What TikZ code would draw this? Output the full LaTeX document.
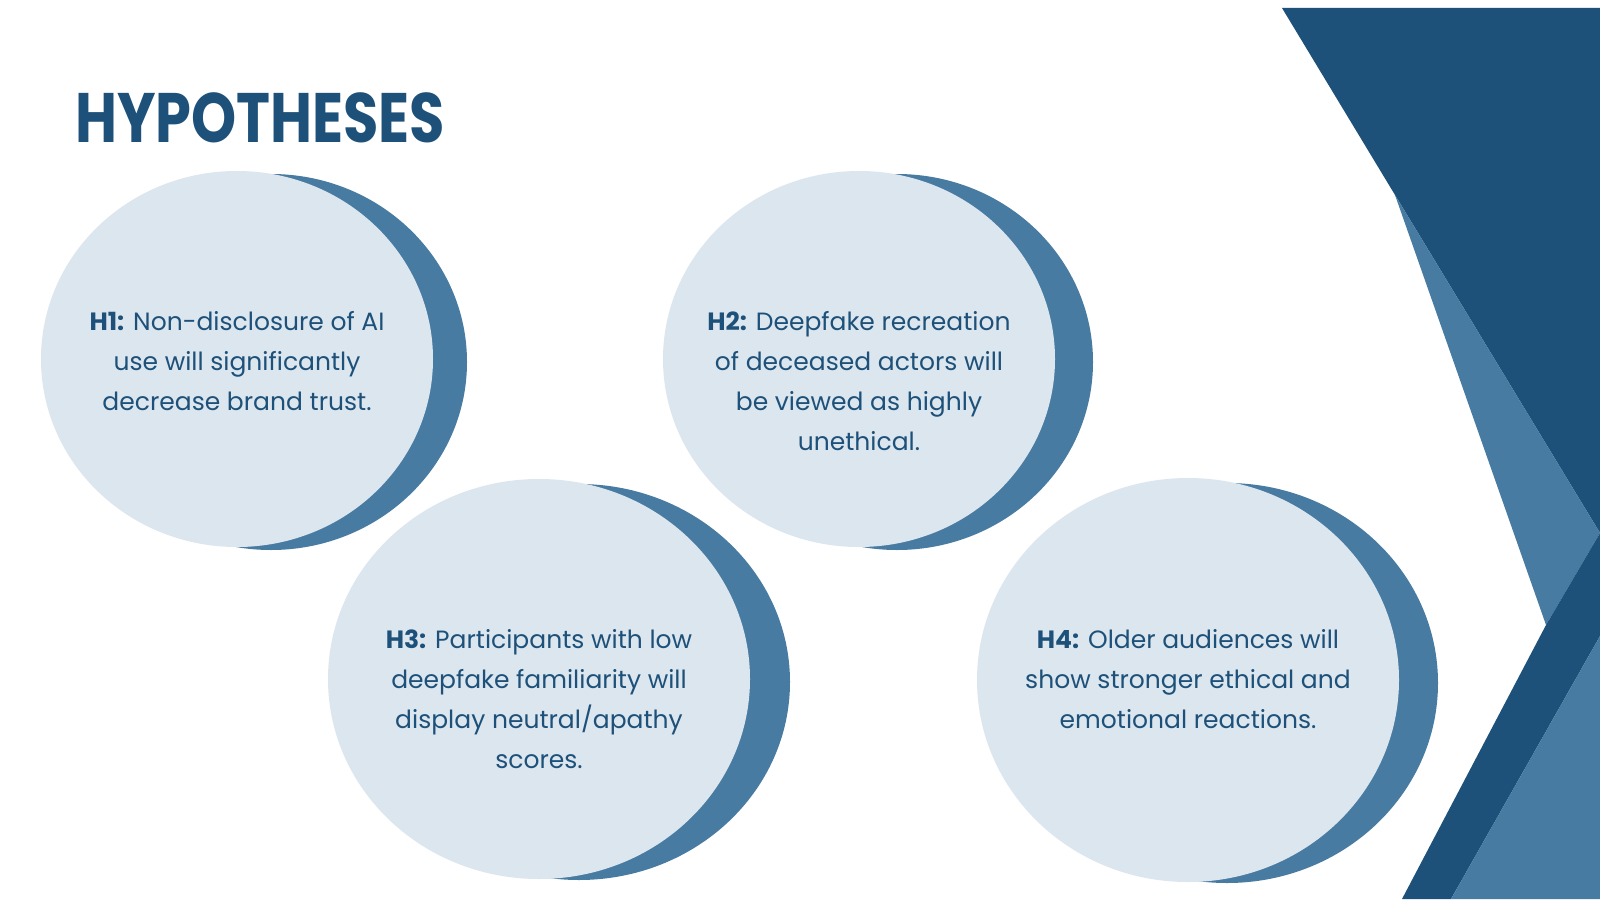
\documentclass[tikz,border=0pt]{standalone}
\usepackage{fontspec}
\setmainfont{Poppins}
\usepackage{graphicx}
\definecolor{dk}{HTML}{1E5179}
\definecolor{md}{HTML}{487BA2}
\definecolor{lt}{HTML}{DCE6EF}
\begin{document}
\begin{tikzpicture}[x=1pt,y=-1pt,
  blob/.style={fill=lt},
  shadow/.style={fill=md},
  txt/.style={text=dk,align=center,font=\fontsize{25}{40}\selectfont}]
\useasboundingbox (0,0) rectangle (1600,899);
\fill[white] (0,0) rectangle (1600,899);
% right decoration
\fill[dk] (1282,8) -- (1600,8) -- (1600,533) -- (1395,195) -- cycle;
\fill[md] (1395,195) -- (1600,533) -- (1546,625) -- cycle;
\fill[dk] (1546,625) -- (1600,533) -- (1600,636) -- (1451,899) -- (1402,899) -- cycle;
\fill[md] (1600,636) -- (1600,899) -- (1451,899) -- cycle;
% blobs
\fill[shadow] (271,362) ellipse [x radius=196, y radius=188];
\fill[blob] (237,359) ellipse [x radius=196, y radius=188];
\fill[shadow] (897,362) ellipse [x radius=196, y radius=188];
\fill[blob] (859,359) ellipse [x radius=196, y radius=188];
\fill[shadow] (579,682) ellipse [x radius=211, y radius=198];
\fill[blob] (539,679) ellipse [x radius=211, y radius=200];
\fill[shadow] (1227,683) ellipse [x radius=211, y radius=200];
\fill[blob] (1188,680) ellipse [x radius=211, y radius=202];
% title
\node[anchor=west,text=dk,inner sep=0] (title) at (75,118) {\scalebox{0.82}[1]{\fontsize{70}{70}\selectfont\bfseries HYPOTHESES}};
% texts
\node[txt] (h1) at (237,361) {\textbf{H1:} Non-disclosure of AI\\use will significantly\\decrease brand trust.};
\node[txt] (h2) at (859,381) {\textbf{H2:} Deepfake recreation\\of deceased actors will\\be viewed as highly\\unethical.};
\node[txt] (h3) at (539,699) {\textbf{H3:} Participants with low\\deepfake familiarity will\\display neutral/apathy\\scores.};
\node[txt] (h4) at (1188,679) {\textbf{H4:} Older audiences will\\show stronger ethical and\\emotional reactions.};
\end{tikzpicture}
\end{document}
